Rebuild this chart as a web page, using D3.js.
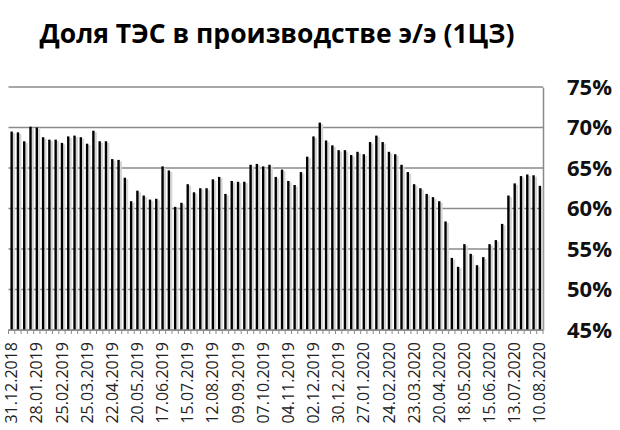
<!DOCTYPE html>
<html>
<head>
<meta charset="utf-8">
<script src="https://d3js.org/d3.v7.min.js"></script>
<style>
  body { margin: 0; background: #fff; }
  .title { font-family: "Open Sans", sans-serif; font-weight: bold; font-size: 26.5px; fill: #000; }
  .xlab { font-family: "Open Sans", sans-serif; font-size: 16px; fill: #222; }
  .ylab { font-family: "Open Sans", sans-serif; font-weight: bold; font-size: 22px; fill: #111; }
</style>
</head>
<body>
<div class="chart"></div>
<script>
// Weekly share of thermal plants (%), weeks starting 31.12.2018
var startWeek = "31.12.2018";
var shareValues = [
  69.5, 69.4, 68.3, 70.1, 70.0, 68.8, 68.5, 68.5, 68.1, 68.9,
  69.0, 68.8, 68.0, 69.6, 68.3, 68.3, 66.1, 66.0, 63.8, 60.9,
  62.2, 61.6, 61.1, 61.2, 65.2, 64.7, 60.2, 60.7, 63.0, 62.0,
  62.5, 62.5, 63.6, 63.9, 61.8, 63.4, 63.3, 63.3, 65.4, 65.5,
  65.2, 65.4, 63.9, 64.8, 63.4, 62.9, 64.5, 66.4, 68.9, 70.6,
  68.4, 67.8, 67.2, 67.2, 66.6, 67.0, 66.7, 68.2, 69.0, 68.2,
  67.0, 66.7, 65.4, 64.5, 63.0, 62.5, 61.8, 61.4, 60.9, 58.4,
  53.9, 52.8, 55.6, 54.4, 53.0, 54.0, 55.6, 56.1, 58.1, 61.6,
  63.1, 64.0, 64.2, 64.1, 62.8
];
var xTickLabels = [
  "31.12.2018", "28.01.2019", "25.02.2019", "25.03.2019", "22.04.2019",
  "20.05.2019", "17.06.2019", "15.07.2019", "12.08.2019", "09.09.2019",
  "07.10.2019", "04.11.2019", "02.12.2019", "30.12.2019", "27.01.2020",
  "24.02.2020", "23.03.2020", "20.04.2020", "18.05.2020", "15.06.2020",
  "13.07.2020", "10.08.2020"
];
var yTicks = [45, 50, 55, 60, 65, 70, 75];

// SVG area
var svgWidth = 620;
var svgHeight = 430;

var chartMargin = { top: 87, right: 77, bottom: 100, left: 8.5 };
var chartWidth = svgWidth - chartMargin.left - chartMargin.right;
var chartHeight = svgHeight - chartMargin.top - chartMargin.bottom;

var svg = d3.select(".chart")
  .append("svg")
  .attr("width", svgWidth)
  .attr("height", svgHeight);

svg.append("text")
  .attr("class", "title")
  .attr("x", 277)
  .attr("y", 43)
  .attr("text-anchor", "middle")
  .text("Доля ТЭС в производстве э/э (1ЦЗ)");

var chartGroup = svg.append("g")
  .attr("transform", `translate(${chartMargin.left}, ${chartMargin.top})`);

// weekly categories
var parseDate = d3.timeParse("%d.%m.%Y");
var fmt = d3.timeFormat("%d.%m.%Y");
var weeks = shareValues.map((v, i) => fmt(d3.timeWeek.offset(parseDate(startWeek), i)));
var data = weeks.map((w, i) => ({ week: w, share: shareValues[i] }));

var xBandScale = d3.scaleBand()
  .domain(weeks)
  .range([0, chartWidth]);

var yLinearScale = d3.scaleLinear()
  .domain([45, 75])
  .range([chartHeight, 0]);

// horizontal gridlines
chartGroup.selectAll(".grid")
  .data(yTicks)
  .enter()
  .append("line")
  .attr("x1", 0)
  .attr("x2", chartWidth)
  .attr("y1", d => yLinearScale(d))
  .attr("y2", d => yLinearScale(d))
  .attr("stroke", "#8a8a8a")
  .attr("stroke-width", 1.5);

// right axis line and labels
var rightAxis = d3.axisRight(yLinearScale)
  .tickValues(yTicks)
  .tickSize(0)
  .tickPadding(24)
  .tickFormat(d => d + "%");

var rAxis = chartGroup.append("g")
  .attr("transform", `translate(${chartWidth}, 0)`)
  .call(rightAxis);
rAxis.select(".domain").attr("stroke", "#8a8a8a").attr("stroke-width", 1.5);
rAxis.selectAll("text").attr("class", "ylab").attr("font-size", null).attr("font-family", null).attr("fill", null);

// bars: grey shadow then black face
var bw = 2.4;
chartGroup.selectAll(".shadow")
  .data(data)
  .enter()
  .append("rect")
  .attr("class", "shadow")
  .attr("x", d => xBandScale(d.week) + xBandScale.bandwidth() / 2 + bw / 2)
  .attr("y", d => yLinearScale(d.share) + 1.5)
  .attr("width", 2.2)
  .attr("height", d => chartHeight - yLinearScale(d.share) - 1.5)
  .attr("fill", "#d4d4d4");

chartGroup.selectAll(".bar")
  .data(data)
  .enter()
  .append("rect")
  .attr("class", "bar")
  .attr("x", d => xBandScale(d.week) + xBandScale.bandwidth() / 2 - bw / 2)
  .attr("y", d => yLinearScale(d.share))
  .attr("width", bw)
  .attr("height", d => chartHeight - yLinearScale(d.share))
  .attr("fill", "#000");

// bottom axis: small tick between every week
var bottom = chartGroup.append("g")
  .attr("transform", `translate(0, ${chartHeight})`);

bottom.append("line")
  .attr("x1", 0)
  .attr("x2", chartWidth)
  .attr("stroke", "#8a8a8a")
  .attr("stroke-width", 1.5);

bottom.selectAll(".tick")
  .data(weeks.concat(["end"]))
  .enter()
  .append("line")
  .attr("x1", (d, i) => i * xBandScale.step())
  .attr("x2", (d, i) => i * xBandScale.step())
  .attr("y1", 0)
  .attr("y2", 4)
  .attr("stroke", "#8a8a8a")
  .attr("stroke-width", 1);

bottom.selectAll(".xlab")
  .data(xTickLabels)
  .enter()
  .append("text")
  .attr("class", "xlab")
  .attr("text-anchor", "end")
  .attr("dy", "0.35em")
  .attr("transform", d => `translate(${xBandScale(d) + xBandScale.bandwidth() / 2}, 12) rotate(-90)`)
  .text(d => d);
</script>
</body>
</html>
